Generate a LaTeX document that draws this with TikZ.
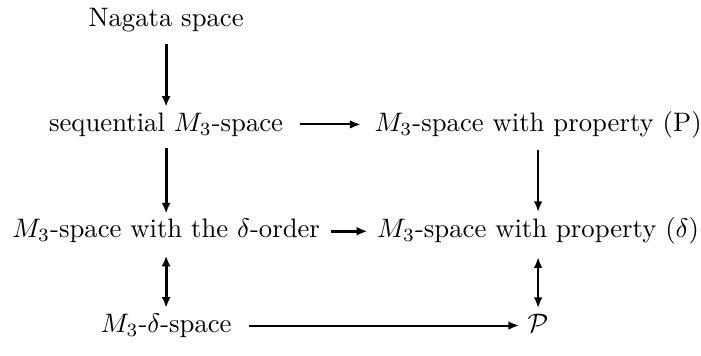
\documentclass[tikz,border=0pt]{standalone}
\usetikzlibrary{arrows.meta,calc}
\begin{document}
\begin{tikzpicture}[x=1pt,y=1pt,
  lbl/.style={anchor=base,inner sep=3.5pt},
  vert/.style={shorten <=0.8pt,shorten >=-1.5pt},
  vertbi/.style={shorten <=-1pt,shorten >=-1.5pt},
  horiz/.style={shorten <=2.5pt,shorten >=1.5pt},
  thickar/.style={line width=1.1pt,-{Latex[length=4pt,width=3.4pt]}},
  thinar/.style={line width=0.75pt,-{Latex[length=4pt,width=3.2pt]}},
  thickbi/.style={line width=1.1pt,{Latex[length=4pt,width=3.4pt]}-{Latex[length=4pt,width=3.4pt]}},
  thinbi/.style={line width=0.75pt,{Latex[length=4pt,width=3.2pt]}-{Latex[length=4pt,width=3.2pt]}}]
\useasboundingbox (0,0) rectangle (262.5,-133);
\node[lbl] (nag) at (62.2,-10.1) {Nagata space};
\node[lbl] (seq) at (62.2,-49.1) {sequential $M_3$-space};
\node[lbl] (mp)  at (201.5,-49.1) {$M_3$-space with property (P)};
\node[lbl] (mdo) at (62.2,-89.1) {$M_3$-space with the $\delta$-order};
\node[lbl] (md)  at (201.5,-89.1) {$M_3$-space with property ($\delta$)};
\node[lbl] (mds) at (62.2,-124.4) {$M_3$-$\delta$-space};
\node[lbl] (P)   at (201.5,-124.4) {$\mathcal{P}$};
\draw[thickar,vert] (nag.south) -- (seq.north);
\draw[thickar,vert] (seq.south) -- (mdo.north);
\draw[thickbi,vertbi] ([yshift=-2pt]mdo.south) -- (mds.north);
\draw[thinar,vert] (mp.south) -- (md.north);
\draw[thinbi,vertbi] ([yshift=-2pt]md.south) -- (P.north);
\draw[thinar,horiz] ([yshift=2.5pt]seq.base east) -- ([yshift=2.5pt]mp.base west);
\draw[thickar,shorten <=0.5pt,shorten >=0pt] ([yshift=2.5pt]mdo.base east) -- ([yshift=2.5pt]md.base west);
\draw[thinar,shorten <=3pt,shorten >=-0.5pt] ([yshift=2.5pt]mds.base east) -- ([yshift=2.5pt]P.base west);
\end{tikzpicture}
\end{document}
